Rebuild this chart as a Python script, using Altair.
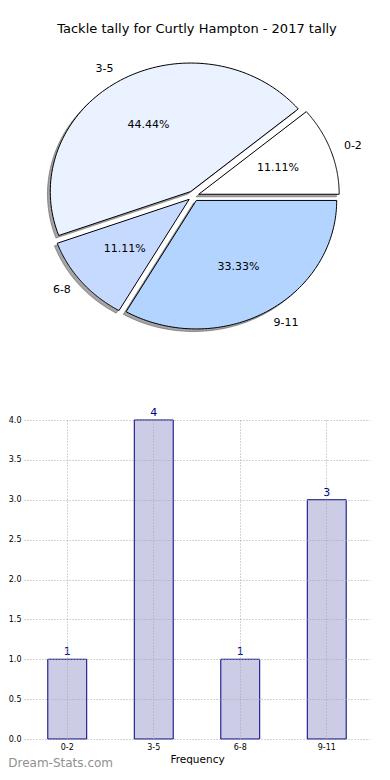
import altair as alt
import pandas as pd

categories = ["0-2", "3-5", "6-8", "9-11"]
counts = [1, 4, 1, 3]
pie_colors = ["#ffffff", "#eaf2ff", "#c6d9ff", "#b3d4ff"]
y_ticks = [0.0, 0.5, 1.0, 1.5, 2.0, 2.5, 3.0, 3.5, 4.0]
title_text = "Tackle tally for Curtly Hampton - 2017 tally"
watermark = "Dream-Stats.com"

EXPLODE = 0.04
N = 90
FONT = "DejaVu Sans"

df = pd.DataFrame({"cat": categories, "count": counts, "idx": list(range(len(categories)))})

xs = alt.Scale(domain=[-1.2071, 1.2571], nice=False, zero=False)
ys = alt.Scale(domain=[-1.4864, 1.1984], nice=False, zero=False)

base = (
    alt.Chart(df)
    .transform_joinaggregate(total="sum(count)")
    .transform_window(cum="sum(count)", sort=[alt.SortField("idx")], frame=[None, 0])
    .transform_calculate(t1="2*PI*datum.cum/datum.total")
    .transform_calculate(t0="2*PI*(datum.cum-datum.count)/datum.total")
    .transform_calculate(mid="(datum.t0+datum.t1)/2")
    .transform_calculate(ox=f"{EXPLODE}*cos(datum.mid)")
    .transform_calculate(oy=f"{EXPLODE}*sin(datum.mid)")
)

points = (
    base.transform_calculate(ks=f"sequence(0,{N + 3})")
    .transform_flatten(["ks"], as_=["k"])
    .transform_calculate(a=f"datum.t0+(datum.t1-datum.t0)*(datum.k-1)/{N}")
    .transform_calculate(apex=f"datum.k==0 || datum.k=={N + 2}")
    .transform_calculate(px="datum.ox+(datum.apex?0:cos(datum.a))")
    .transform_calculate(py="datum.oy+(datum.apex?0:sin(datum.a))")
    .transform_calculate(sx="datum.px-0.02")
    .transform_calculate(sy="datum.py-0.02")
)

shadow = points.mark_line(
    fill="#4c4c4c", fillOpacity=0.5, stroke="#4c4c4c", strokeOpacity=0.5, strokeWidth=1
).encode(
    x=alt.X("sx:Q", scale=xs, axis=None),
    y=alt.Y("sy:Q", scale=ys, axis=None),
    detail="cat:N",
    order="k:Q",
)

slices = points.mark_line(stroke="black", strokeWidth=1).encode(
    x=alt.X("px:Q", scale=xs, axis=None),
    y=alt.Y("py:Q", scale=ys, axis=None),
    fill=alt.Fill("cat:N", scale=alt.Scale(domain=categories, range=pie_colors), legend=None),
    order="k:Q",
)

lab = (
    base.transform_calculate(lx="datum.ox+1.1*cos(datum.mid)")
    .transform_calculate(ly="datum.oy+1.1*sin(datum.mid)")
    .transform_calculate(c="cos(datum.mid)")
)
lab_right = lab.transform_filter("datum.c >= 0").mark_text(
    align="left", baseline="middle", fontSize=11, color="black"
).encode(x=alt.X("lx:Q", scale=xs, axis=None), y=alt.Y("ly:Q", scale=ys, axis=None), text="cat:N")
lab_left = lab.transform_filter("datum.c < 0").mark_text(
    align="right", baseline="middle", fontSize=11, color="black"
).encode(x=alt.X("lx:Q", scale=xs, axis=None), y=alt.Y("ly:Q", scale=ys, axis=None), text="cat:N")

pct = (
    base.transform_calculate(qx="datum.ox+0.6*cos(datum.mid)")
    .transform_calculate(qy="datum.oy+0.6*sin(datum.mid)")
    .transform_calculate(pct="format(100*datum.count/datum.total, '.2f') + '%'")
    .mark_text(align="center", baseline="middle", fontSize=11, color="black")
    .encode(x=alt.X("qx:Q", scale=xs, axis=None), y=alt.Y("qy:Q", scale=ys, axis=None), text="pct:N")
)

pie = alt.layer(shadow, slices, lab_right, lab_left, pct).properties(
    width=346,
    height=345,
    title=alt.TitleParams(title_text, fontSize=13, fontWeight="normal", font=FONT,
                          color="black", anchor="middle", offset=6),
    view=alt.ViewBackground(strokeOpacity=0),
)

bar_base = alt.Chart(df).encode(
    x=alt.X(
        "cat:N",
        sort=categories,
        scale=alt.Scale(paddingInner=0.55, paddingOuter=0.275),
        axis=alt.Axis(
            title="Frequency", labelAngle=0, labelFontSize=8, labelColor="black",
            titleFontSize=10.5, titleFontWeight="normal", titleColor="black",
            ticks=False, domain=False, labelPadding=4, titlePadding=3,
            grid=True, gridDash=[1, 2], gridColor="#a8a8a8", bandPosition=0.5, zindex=1,
        ),
    ),
    y=alt.Y(
        "count:Q",
        scale=alt.Scale(domain=[0, 4], nice=False),
        axis=alt.Axis(
            title=None, values=y_ticks, format=".1f", labelFontSize=8, labelColor="black",
            ticks=False, domain=False, labelPadding=3,
            grid=True, gridDash=[1, 2], gridColor="#a8a8a8", zindex=1,
        ),
    ),
)
bars = bar_base.mark_bar(fill="#ccccE6", stroke="#000080", strokeWidth=1)
bar_labels = bar_base.mark_text(baseline="bottom", dy=-2, fontSize=11, color="#00008b").encode(
    text="count:Q"
)

bar = alt.layer(bars, bar_labels).properties(
    width=346,
    height=319,
    title=alt.TitleParams(watermark, orient="bottom", anchor="start", fontSize=12,
                          fontWeight="normal", color="#909090", font=FONT, offset=-7),
    view=alt.ViewBackground(stroke="black", strokeWidth=1),
)

chart = (
    alt.vconcat(pie, bar, spacing=20)
    .properties(padding={"top": 15, "left": 0, "right": 0, "bottom": 0})
    .configure(font=FONT)
    .configure_view(strokeOpacity=0)
)

chart.save("out.html", embed_options={"renderer": "svg", "actions": False})
